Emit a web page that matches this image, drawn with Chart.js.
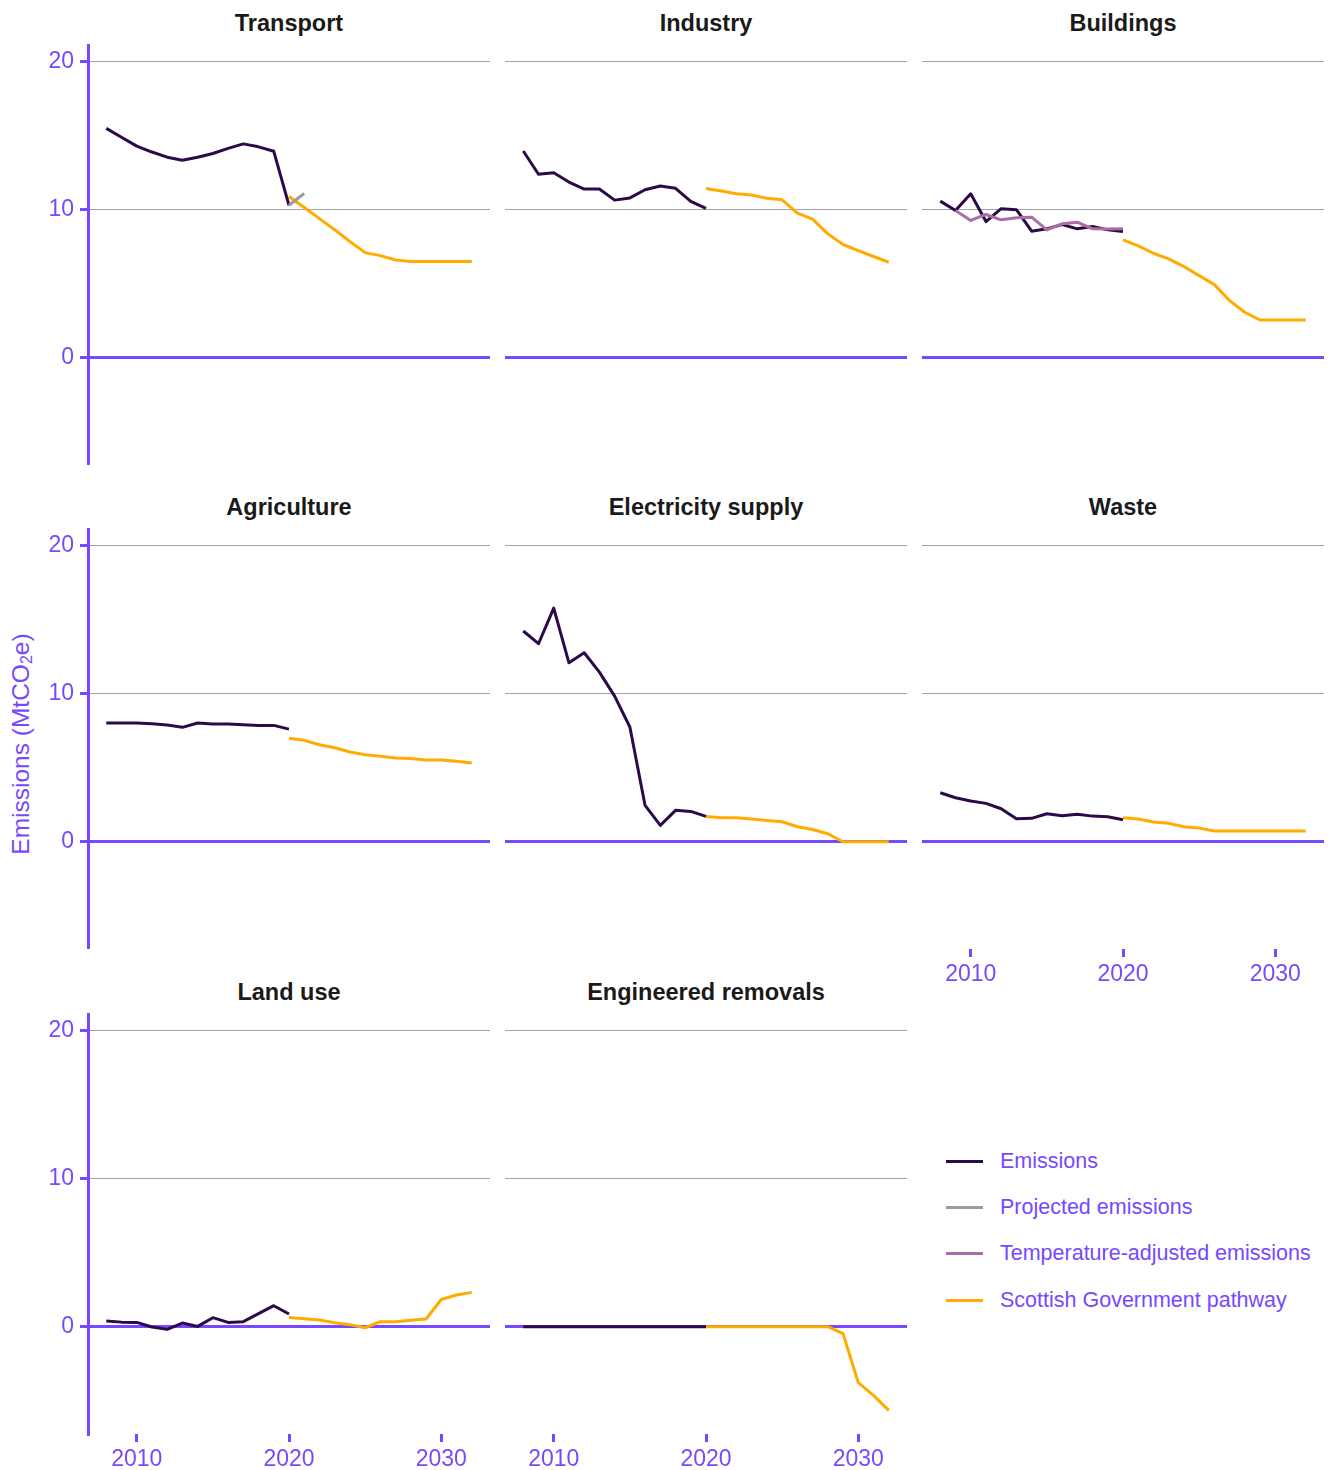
<!DOCTYPE html>
<html lang="en">
<head>
<meta charset="UTF-8">
<title>Emissions by sector</title>
<script src="https://cdn.jsdelivr.net/npm/chart.js"></script>
<style>
  body { margin: 0; background: #fff; font-family: "Liberation Sans", Arial, Helvetica, sans-serif; }
  #wrap { position: relative; width: 1337px; height: 1470px; }
  canvas { position: absolute; display: block; }
  .title { position: absolute; width: 402px; text-align: center; font-weight: bold; font-size: 23.5px; line-height: 28px; color: #1a1a1a; }
  .ytitle { position: absolute; left: 21px; top: 744px; transform: translate(-50%, -50%) rotate(-90deg); white-space: nowrap; font-size: 24.5px; color: #7649fe; }
  .ytitle sub { font-size: 16px; vertical-align: -3px; }
  .lg-line { position: absolute; left: 946px; width: 37px; height: 3px; }
  .lg-text { position: absolute; left: 1000px; font-size: 21.5px; line-height: 26px; color: #7649fe; white-space: nowrap; }
</style>
</head>
<body>
<div id="wrap">
  <div class="ytitle">Emissions (MtCO<sub>2</sub>e)</div>
</div>

<script>
// years
const histYears = [2008, 2009, 2010, 2011, 2012, 2013, 2014, 2015, 2016, 2017, 2018, 2019, 2020];
const pathYears = [2020, 2021, 2022, 2023, 2024, 2025, 2026, 2027, 2028, 2029, 2030, 2031, 2032];
const projYears = [2020, 2021];
const xTicks = [2010, 2020, 2030];
const yTicks = [0, 10, 20];

// MtCO2e
const transportEmissions = [15.5, 14.9, 14.3, 13.9, 13.55, 13.35, 13.55, 13.8, 14.15, 14.45, 14.25, 13.95, 10.3];
const transportProjected = [10.3, 11.1];
const transportPathway = [10.9, 10.15, 9.4, 8.65, 7.85, 7.1, 6.9, 6.6, 6.5, 6.5, 6.5, 6.5, 6.5];

const industryEmissions = [13.97, 12.4, 12.5, 11.87, 11.4, 11.4, 10.65, 10.8, 11.35, 11.6, 11.45, 10.56, 10.1];
const industryPathway = [11.44, 11.26, 11.08, 11.0, 10.77, 10.67, 9.77, 9.37, 8.37, 7.65, 7.24, 6.84, 6.45];

const buildingsEmissions = [10.58, 9.95, 11.08, 9.2, 10.07, 10.0, 8.55, 8.71, 9.0, 8.71, 8.87, 8.64, 8.53];
const buildingsTempAdjusted = [null, 9.95, 9.28, 9.68, 9.32, 9.46, 9.5, 8.64, 9.05, 9.16, 8.71, 8.69, 8.71];
const buildingsPathway = [7.97, 7.56, 7.06, 6.68, 6.16, 5.55, 4.94, 3.86, 3.07, 2.55, 2.55, 2.55, 2.55];

const agricultureEmissions = [8.02, 8.02, 8.02, 7.97, 7.88, 7.73, 8.02, 7.95, 7.95, 7.9, 7.86, 7.86, 7.61];
const agriculturePathway = [7.0, 6.85, 6.55, 6.35, 6.06, 5.88, 5.77, 5.65, 5.63, 5.52, 5.52, 5.43, 5.32];

const electricityEmissions = [14.24, 13.38, 15.79, 12.09, 12.77, 11.46, 9.84, 7.75, 2.45, 1.1, 2.12, 2.05, 1.71];
const electricityPathway = [1.71, 1.62, 1.62, 1.53, 1.44, 1.35, 1.01, 0.83, 0.54, 0, 0, 0, 0];

const wasteEmissions = [3.31, 2.97, 2.75, 2.59, 2.23, 1.55, 1.58, 1.89, 1.76, 1.85, 1.73, 1.69, 1.49];
const wastePathway = [1.62, 1.53, 1.33, 1.24, 1.01, 0.92, 0.72, 0.72, 0.72, 0.72, 0.72, 0.72, 0.72];

const landUseEmissions = [0.38, 0.31, 0.29, -0.02, -0.18, 0.25, 0.02, 0.61, 0.29, 0.34, 0.88, 1.42, 0.86];
const landUsePathway = [0.63, 0.54, 0.45, 0.27, 0.14, -0.07, 0.34, 0.34, 0.43, 0.52, 1.84, 2.14, 2.32];

const removalsEmissions = [0, 0, 0, 0, 0, 0, 0, 0, 0, 0, 0, 0, 0];
const removalsPathway = [0, 0, 0, 0, 0, 0, 0, 0, 0, -0.47, -3.78, -4.64, -5.65];

const legendLabels = ['Emissions', 'Projected emissions', 'Temperature-adjusted emissions', 'Scottish Government pathway'];
const legendColors = ['#2c0a4a', '#9c9c9c', '#ab6ea4', '#ffab00'];

const PURPLE = '#7649fe';
const FONT = '"Liberation Sans", Arial, Helvetica, sans-serif';

const panels = [
  { title: 'Transport', col: 0, row: 0, emissions: transportEmissions, projected: transportProjected, pathway: transportPathway },
  { title: 'Industry', col: 1, row: 0, emissions: industryEmissions, pathway: industryPathway },
  { title: 'Buildings', col: 2, row: 0, emissions: buildingsEmissions, tempAdj: buildingsTempAdjusted, pathway: buildingsPathway },
  { title: 'Agriculture', col: 0, row: 1, emissions: agricultureEmissions, pathway: agriculturePathway },
  { title: 'Electricity supply', col: 1, row: 1, emissions: electricityEmissions, pathway: electricityPathway },
  { title: 'Waste', col: 2, row: 1, emissions: wasteEmissions, pathway: wastePathway, bottom: true },
  { title: 'Land use', col: 0, row: 2, emissions: landUseEmissions, pathway: landUsePathway, bottom: true },
  { title: 'Engineered removals', col: 1, row: 2, emissions: removalsEmissions, pathway: removalsPathway, bottom: true }
];

// panel geometry
const plotLeft = [88, 505, 922];
const plotTop = [44, 528, 1013];
const plotW = 402, plotH = 421;
const yAxisW = 88, xAxisH = 45;

const wrap = document.getElementById('wrap');

function pts(years, vals) {
  return years.map((x, i) => ({ x: x, y: vals[i] }));
}

function line(label, data, color, order) {
  return { label: label, data: data, borderColor: color, backgroundColor: color, borderWidth: 3,
           pointRadius: 0, tension: 0, fill: false, order: order, borderCapStyle: 'butt', borderJoinStyle: 'round' };
}

panels.forEach(p => {
  const hasY = p.col === 0;
  const canvas = document.createElement('canvas');
  const w = plotW + (hasY ? yAxisW : 0);
  const h = plotH + (p.bottom ? xAxisH : 0);
  canvas.width = w;
  canvas.height = h;
  canvas.style.left = (plotLeft[p.col] - (hasY ? yAxisW : 0)) + 'px';
  canvas.style.top = plotTop[p.row] + 'px';
  canvas.style.width = w + 'px';
  canvas.style.height = h + 'px';
  wrap.appendChild(canvas);

  const t = document.createElement('div');
  t.className = 'title';
  t.textContent = p.title;
  t.style.left = plotLeft[p.col] + 'px';
  t.style.top = (plotTop[p.row] - 35) + 'px';
  wrap.appendChild(t);

  const datasets = [];
  datasets.push(line('Scottish Government pathway', pts(pathYears, p.pathway), legendColors[3], 4));
  datasets.push(line('Emissions', pts(histYears, p.emissions), legendColors[0], 3));
  if (p.tempAdj) datasets.push(line('Temperature-adjusted emissions', pts(histYears, p.tempAdj), legendColors[2], 2));
  if (p.projected) datasets.push(line('Projected emissions', pts(projYears, p.projected), legendColors[1], 1));

  new Chart(canvas.getContext('2d'), {
    type: 'line',
    data: { datasets: datasets },
    options: {
      responsive: false,
      animation: false,
      events: [],
      layout: { padding: 0 },
      plugins: { legend: { display: false }, tooltip: { enabled: false } },
      scales: {
        x: {
          type: 'linear', min: 2006.8, max: 2033.2,
          display: !!p.bottom,
          afterBuildTicks: s => { s.ticks = xTicks.map(v => ({ value: v })); },
          afterFit: s => { s.height = p.bottom ? xAxisH : 0; s.paddingLeft = 0; s.paddingRight = 0; },
          grid: { drawOnChartArea: false, drawTicks: true, tickLength: 8, tickColor: PURPLE, tickWidth: 3 },
          border: { display: false },
          ticks: { color: PURPLE, font: { size: 23, family: FONT }, padding: 4, maxRotation: 0, autoSkip: false,
                   callback: v => String(v) }
        },
        y: {
          min: -7.25, max: 21.2,
          afterBuildTicks: s => { s.ticks = yTicks.map(v => ({ value: v })); },
          afterFit: s => { s.width = hasY ? yAxisW : 0; s.paddingTop = 0; s.paddingBottom = 0; },
          grid: {
            color: c => (c.tick && c.tick.value === 0) ? PURPLE : '#a3a3a3',
            lineWidth: c => (c.tick && c.tick.value === 0) ? 3 : 1,
            drawTicks: hasY, tickLength: 8, tickColor: PURPLE, tickWidth: 3
          },
          border: { display: hasY, color: PURPLE, width: 3 },
          ticks: { display: hasY, color: PURPLE, font: { size: 23, family: FONT }, padding: 6,
                   callback: v => String(v) }
        }
      }
    }
  });
});

// legend
const legendY = [1161, 1207, 1253, 1300];
legendLabels.forEach((lab, i) => {
  const l = document.createElement('div');
  l.className = 'lg-line';
  l.style.top = (legendY[i] - 1.5) + 'px';
  l.style.background = legendColors[i];
  wrap.appendChild(l);
  const s = document.createElement('div');
  s.className = 'lg-text';
  s.style.top = (legendY[i] - 13) + 'px';
  s.textContent = lab;
  wrap.appendChild(s);
});
</script>
</body>
</html>
